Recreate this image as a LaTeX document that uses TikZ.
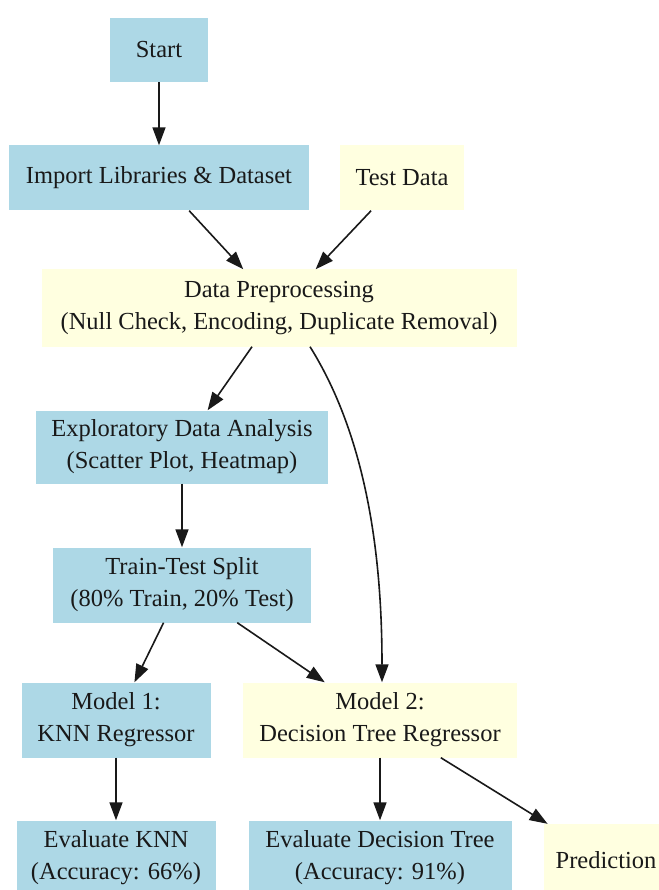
\documentclass[tikz,border=0pt]{standalone}
\usepackage{fontspec}
\setmainfont{Liberation Serif}
\usetikzlibrary{arrows.meta}
\definecolor{lightblue}{HTML}{ADD8E6}
\definecolor{lightyellow}{HTML}{FFFFE0}
\begin{document}
\begin{tikzpicture}[x=1pt, y=1pt,
    box/.style={rectangle, inner sep=0pt, align=center, text=black!90,
        font=\fontsize{24.5}{32}\selectfont},
    bluebox/.style={box, fill=lightblue},
    yellowbox/.style={box, fill=lightyellow},
    arr/.style={-{Triangle[length=18pt,width=13pt]}, line width=1.6pt, black!90}]
    \useasboundingbox (0,0) rectangle (658,-890);

    % Top
    \node[bluebox, minimum width=98, minimum height=64] (start) at (159,-50) {Start};
    \node[bluebox, minimum width=300, minimum height=65] (import) at (159,-178) {Import Libraries \& Dataset};
    \node[yellowbox, minimum width=124, minimum height=65] (testdata) at (402,-178) {Test Data};

    % Preprocessing and analysis
    \node[yellowbox, minimum width=475, minimum height=77] (preproc) at (279,-308) {Data Preprocessing\\(Null Check, Encoding, Duplicate Removal)};
    \node[bluebox, minimum width=292, minimum height=73] (eda) at (182,-447) {Exploratory Data Analysis\\(Scatter Plot, Heatmap)};
    \node[bluebox, minimum width=258, minimum height=75] (split) at (182,-585) {Train-Test Split\\(80\% Train, 20\% Test)};

    % Models
    \node[bluebox, minimum width=189, minimum height=75] (model1) at (116,-720) {Model 1:\\KNN Regressor};
    \node[yellowbox, minimum width=274, minimum height=75] (model2) at (380,-720) {Model 2:\\Decision Tree Regressor};

    % Results
    \node[bluebox, minimum width=199, minimum height=75] (evalknn) at (116,-858) {Evaluate KNN\\(Accuracy: 66\%)};
    \node[bluebox, minimum width=263, minimum height=75] (evaldt) at (380,-858) {Evaluate Decision Tree\\(Accuracy: 91\%)};
    \node[yellowbox, minimum width=124, minimum height=72] (pred) at (606,-860) {Prediction};

    % Arrows
    \draw[arr] (start) -- (import);
    \draw[arr] (import) -- (preproc);
    \draw[arr] (testdata) -- (preproc);
    \draw[arr] (preproc) -- (eda);
    \draw[arr] (eda) -- (split);
    \draw[arr] (split) -- (model1);
    \draw[arr] (split) -- (model2);
    \draw[arr] ([xshift=31pt]preproc.south) to[out=-58, in=90, looseness=0.85] ([xshift=2pt]model2.north);
    \draw[arr] (model1) -- (evalknn);
    \draw[arr] (model2) -- (evaldt);
    \draw[arr] (model2) -- (pred);
\end{tikzpicture}
\end{document}
